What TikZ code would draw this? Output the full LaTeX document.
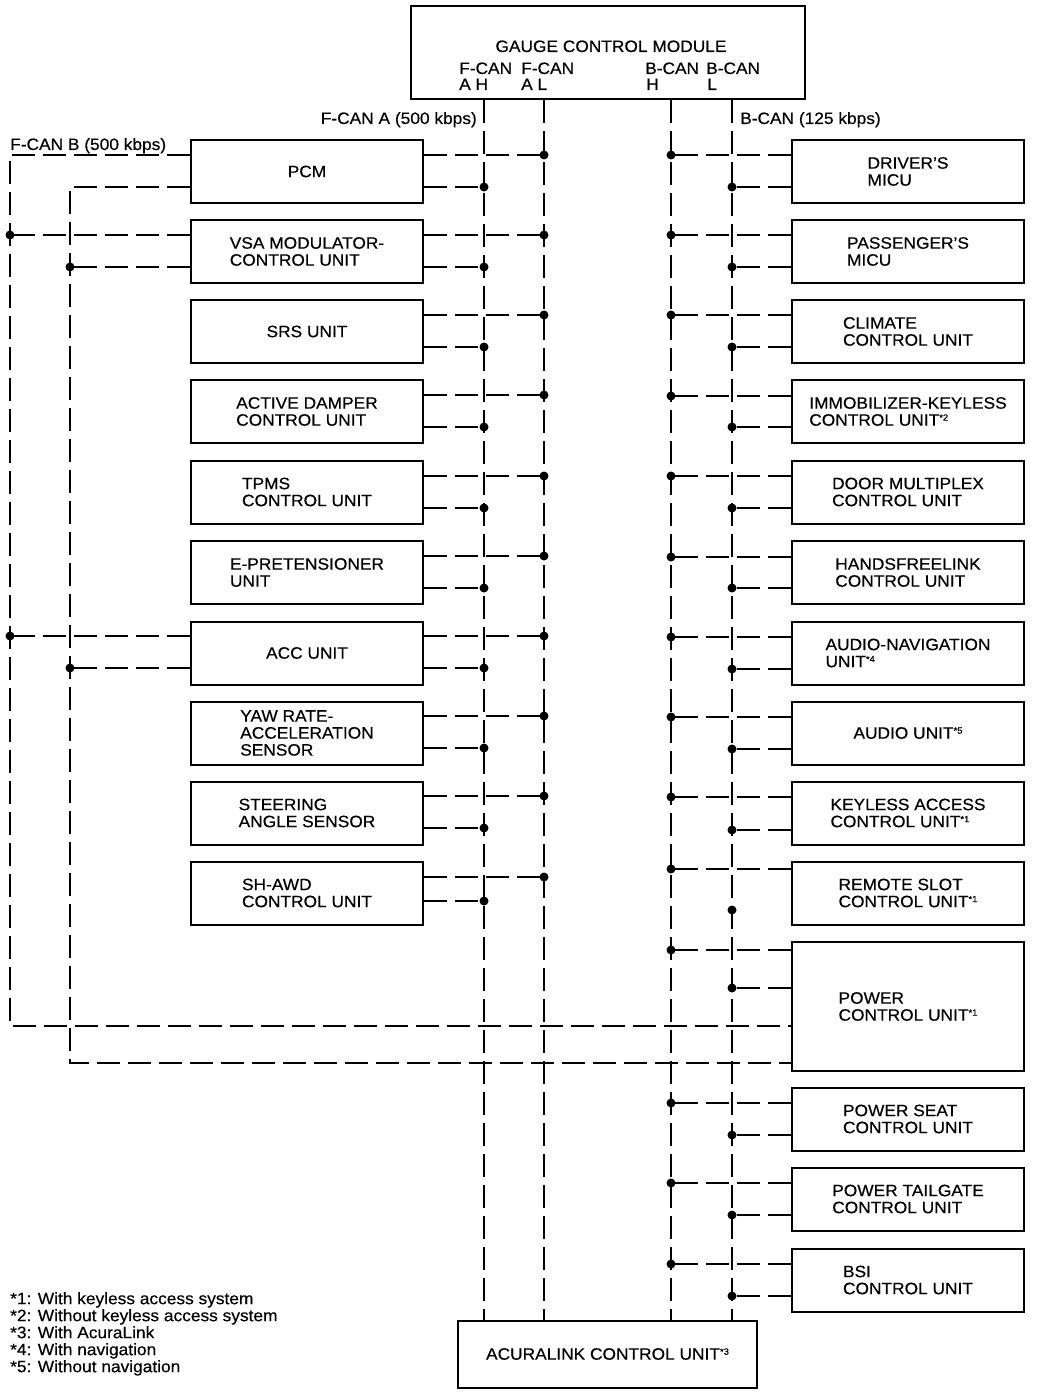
\documentclass[tikz,border=0pt]{standalone}
\usepackage{fontspec}
\setmainfont{Liberation Sans}[FakeStretch=1.05,FakeBold=0.4]
\usepackage{tikz}

\newcommand{\sn}[1]{\raisebox{5pt}{\fontsize{9}{9}\selectfont *#1}}

\begin{document}
\begin{tikzpicture}[x=1pt,y=-1pt,
  font=\fontsize{16.5}{17}\selectfont,
  box/.style={draw,line width=2pt,inner sep=0pt,minimum width=232pt,minimum height=63pt,align=left},
  can/.style={dash pattern=on 23pt off 8pt,line width=2.9pt},
  canl/.style={dash pattern=on 23pt off 8pt,line width=2pt},
  jn/.style={circle,fill,inner sep=0pt,minimum size=9pt},
  lbl/.style={inner sep=0pt}]
\useasboundingbox (0,0) rectangle (1056,1396);

% bus positions
\coordinate (fah) at (484,0);
\coordinate (fal) at (544,0);
\coordinate (bh) at (671,0);
\coordinate (bl) at (732,0);
\coordinate (fbo) at (10,155);
\coordinate (fbi) at (70,187);

% gauge control module and acuralink
\node[box,minimum width=394pt,minimum height=93pt] (gcm) at (608,52.5) {};
\node[lbl,anchor=base] (gcmt) at (611,52) {GAUGE CONTROL MODULE};
\node[lbl,anchor=base west] (fahl) at (459,74) {F-CAN};
\node[lbl,anchor=base west] (fahl2) at (459,90) {A H};
\node[lbl,anchor=base west] (fall) at (521,74) {F-CAN};
\node[lbl,anchor=base west] (fall2) at (521,90) {A L};
\node[lbl,anchor=base west] (bhl) at (645,74) {B-CAN};
\node[lbl,anchor=base west] (bhl2) at (646,90) {H};
\node[lbl,anchor=base west] (bll) at (706,74) {B-CAN};
\node[lbl,anchor=base west] (bll2) at (707,90) {L};

\node[box,minimum width=299pt,minimum height=67pt] (acu) at (607.5,1354) {ACURALINK CONTROL UNIT\sn{3}};

\node[lbl,anchor=base east] (fcana) at (477,124) {F-CAN A (500 kbps)};
\node[lbl,anchor=base west] (bcan) at (740,124) {B-CAN (125 kbps)};
\node[lbl,anchor=base west] (fcanb) at (10,150) {F-CAN B (500 kbps)};

% left units
\node[box] (pcm) at (307,171.5) {PCM};
\node[box] (vsa) at (307,251.5) {VSA MODULATOR-\\CONTROL UNIT};
\node[box] (srs) at (307,331.5) {SRS UNIT};
\node[box] (adc) at (307,411.5) {ACTIVE DAMPER\\CONTROL UNIT};
\node[box] (tpms) at (307,492) {TPMS\\CONTROL UNIT};
\node[box] (epre) at (307,572.5) {E-PRETENSIONER\\UNIT};
\node[box] (acc) at (307,653) {ACC UNIT};
\node[box] (yaw) at (307,733) {YAW RATE-\\ACCELERATION\\SENSOR};
\node[box] (steer) at (307,813) {STEERING\\ANGLE SENSOR};
\node[box] (awd) at (307,893) {SH-AWD\\CONTROL UNIT};

% right units
\node[box] (dmicu) at (908,171.5) {DRIVER'S\\MICU};
\node[box] (pmicu) at (908,251.5) {PASSENGER'S\\MICU};
\node[box] (clim) at (908,331.5) {CLIMATE\\CONTROL UNIT};
\node[box] (immo) at (908,411.5) {IMMOBILIZER-KEYLESS\\CONTROL UNIT\sn{2}};
\node[box] (door) at (908,492) {DOOR MULTIPLEX\\CONTROL UNIT};
\node[box] (hfl) at (908,572.5) {HANDSFREELINK\\CONTROL UNIT};
\node[box] (anav) at (908,653) {AUDIO-NAVIGATION\\UNIT\sn{4}};
\node[box] (audio) at (908,733) {AUDIO UNIT\sn{5}};
\node[box] (kac) at (908,813) {KEYLESS ACCESS\\CONTROL UNIT\sn{1}};
\node[box] (rsc) at (908,893) {REMOTE SLOT\\CONTROL UNIT\sn{1}};
\node[box,minimum height=129pt] (pwr) at (908,1006.5) {POWER\\CONTROL UNIT\sn{1}};
\node[box] (pseat) at (908,1119) {POWER SEAT\\CONTROL UNIT};
\node[box] (ptg) at (908,1199) {POWER TAILGATE\\CONTROL UNIT};
\node[box] (bsi) at (908,1280) {BSI\\CONTROL UNIT};

% bus lines
\draw[can] (gcm.south -| fah) -- (acu.north -| fah);
\draw[can] (gcm.south -| fal) -- (acu.north -| fal);
\draw[can] (gcm.south -| bh) -- (acu.north -| bh);
\draw[canl] (gcm.south -| bl) -- (acu.north -| bl);

% F-CAN B
\draw[can] (pcm.west |- fbo) -- (fbo) -- (fbo |- 0,1026) -- (pwr.west |- 0,1026);
\draw[can] (pcm.west |- fbi) -- (fbi) -- (fbi |- 0,1063) -- (pwr.west |- 0,1063);
\draw[can] (vsa.west |- 0,235) -- (fbo |- 0,235) node[jn]{};
\draw[can] (vsa.west |- 0,267) -- (fbi |- 0,267) node[jn]{};
\draw[can] (acc.west |- 0,636) -- (fbo |- 0,636) node[jn]{};
\draw[can] (acc.west |- 0,668) -- (fbi |- 0,668) node[jn]{};

% F-CAN A
\draw[can] (pcm.east |- 0,155) -- (fal |- 0,155) node[jn]{};
\draw[can] (pcm.east |- 0,187) -- (fah |- 0,187) node[jn]{};
\draw[can] (vsa.east |- 0,235) -- (fal |- 0,235) node[jn]{};
\draw[can] (vsa.east |- 0,267) -- (fah |- 0,267) node[jn]{};
\draw[can] (srs.east |- 0,315) -- (fal |- 0,315) node[jn]{};
\draw[can] (srs.east |- 0,347) -- (fah |- 0,347) node[jn]{};
\draw[can] (adc.east |- 0,395) -- (fal |- 0,395) node[jn]{};
\draw[can] (adc.east |- 0,427) -- (fah |- 0,427) node[jn]{};
\draw[can] (tpms.east |- 0,476) -- (fal |- 0,476) node[jn]{};
\draw[can] (tpms.east |- 0,508) -- (fah |- 0,508) node[jn]{};
\draw[can] (epre.east |- 0,556) -- (fal |- 0,556) node[jn]{};
\draw[can] (epre.east |- 0,588) -- (fah |- 0,588) node[jn]{};
\draw[can] (acc.east |- 0,636) -- (fal |- 0,636) node[jn]{};
\draw[can] (acc.east |- 0,668) -- (fah |- 0,668) node[jn]{};
\draw[can] (yaw.east |- 0,716) -- (fal |- 0,716) node[jn]{};
\draw[can] (yaw.east |- 0,748) -- (fah |- 0,748) node[jn]{};
\draw[can] (steer.east |- 0,796) -- (fal |- 0,796) node[jn]{};
\draw[can] (steer.east |- 0,828) -- (fah |- 0,828) node[jn]{};
\draw[can] (awd.east |- 0,877) -- (fal |- 0,877) node[jn]{};
\draw[can] (awd.east |- 0,901) -- (fah |- 0,901) node[jn]{};

% B-CAN
\draw[can] (dmicu.west |- 0,155) -- (bh |- 0,155) node[jn]{};
\draw[can] (dmicu.west |- 0,187) -- (bl |- 0,187) node[jn]{};
\draw[can] (pmicu.west |- 0,235) -- (bh |- 0,235) node[jn]{};
\draw[can] (pmicu.west |- 0,267) -- (bl |- 0,267) node[jn]{};
\draw[can] (clim.west |- 0,315) -- (bh |- 0,315) node[jn]{};
\draw[can] (clim.west |- 0,347) -- (bl |- 0,347) node[jn]{};
\draw[can] (immo.west |- 0,396) -- (bh |- 0,396) node[jn]{};
\draw[can] (immo.west |- 0,427) -- (bl |- 0,427) node[jn]{};
\draw[can] (door.west |- 0,476) -- (bh |- 0,476) node[jn]{};
\draw[can] (door.west |- 0,508) -- (bl |- 0,508) node[jn]{};
\draw[can] (hfl.west |- 0,557) -- (bh |- 0,557) node[jn]{};
\draw[can] (hfl.west |- 0,588) -- (bl |- 0,588) node[jn]{};
\draw[can] (anav.west |- 0,637) -- (bh |- 0,637) node[jn]{};
\draw[can] (anav.west |- 0,669) -- (bl |- 0,669) node[jn]{};
\draw[can] (audio.west |- 0,717) -- (bh |- 0,717) node[jn]{};
\draw[can] (audio.west |- 0,749) -- (bl |- 0,749) node[jn]{};
\draw[can] (kac.west |- 0,797) -- (bh |- 0,797) node[jn]{};
\draw[can] (kac.west |- 0,830) -- (bl |- 0,830) node[jn]{};
\draw[can] (rsc.west |- 0,869) -- (bh |- 0,869) node[jn]{};
\node[jn] (rscj) at (bl |- 0,910) {};
\draw[can] (pwr.west |- 0,950) -- (bh |- 0,950) node[jn]{};
\draw[can] (pwr.west |- 0,988) -- (bl |- 0,988) node[jn]{};
\draw[can] (pseat.west |- 0,1103) -- (bh |- 0,1103) node[jn]{};
\draw[can] (pseat.west |- 0,1135) -- (bl |- 0,1135) node[jn]{};
\draw[can] (ptg.west |- 0,1183) -- (bh |- 0,1183) node[jn]{};
\draw[can] (ptg.west |- 0,1215) -- (bl |- 0,1215) node[jn]{};
\draw[can] (bsi.west |- 0,1264) -- (bh |- 0,1264) node[jn]{};
\draw[can] (bsi.west |- 0,1296) -- (bl |- 0,1296) node[jn]{};

% notes
\node[lbl,anchor=north west,align=left] (notes) at (10,1292)
  {*1: With keyless access system\\*2: Without keyless access system\\*3: With AcuraLink\\*4: With navigation\\*5: Without navigation};
\end{tikzpicture}
\end{document}
